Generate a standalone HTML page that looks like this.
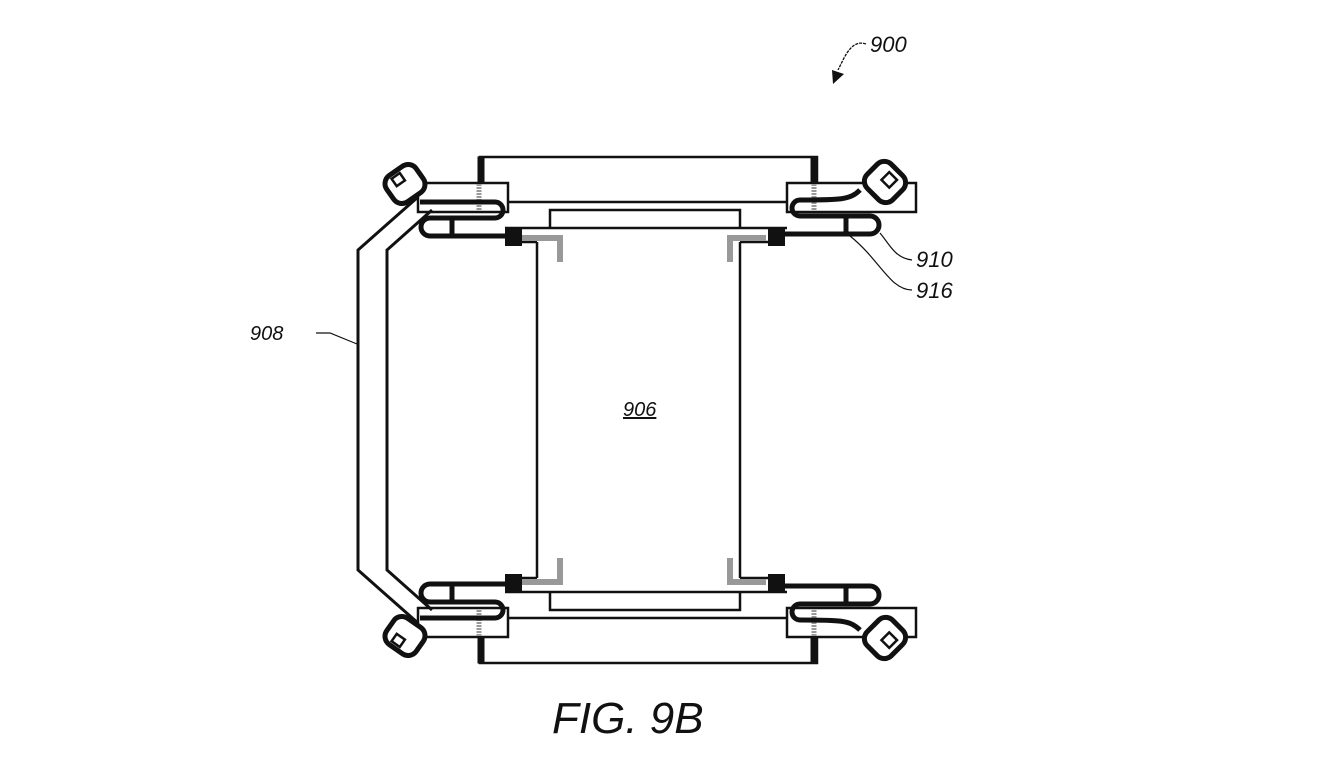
<!DOCTYPE html>
<html><head><meta charset="utf-8"><style>
html,body{margin:0;padding:0;background:#fff}
svg{display:block}
text{font-family:"Liberation Sans",sans-serif;font-style:italic;fill:#111}
</style></head><body>
<svg width="1324" height="782" viewBox="0 0 1324 782" xmlns="http://www.w3.org/2000/svg">
<defs>
<g id="top" fill="none" stroke="#111">
  <!-- top plate -->
  <path d="M480 183 V157 H817 V183" stroke-width="2.5"/>
  <rect x="478" y="157" width="6" height="26" fill="#111"/>
  <rect x="811" y="157" width="6" height="26" fill="#111"/>
  <line x1="508" y1="202" x2="787" y2="202" stroke-width="2.5"/>
  <!-- clamp blocks -->
  <rect x="418" y="183" width="90" height="29" stroke-width="2.5" fill="#fff"/>
  <rect x="787" y="183" width="129" height="29" stroke-width="2.5" fill="#fff"/>
  <line x1="479" y1="184" x2="479" y2="210" stroke="#999" stroke-width="5" stroke-dasharray="2 1"/>
  <line x1="814" y1="184" x2="814" y2="210" stroke="#999" stroke-width="5" stroke-dasharray="2 1"/>
  <!-- inner plate -->
  <path d="M550 227 V210 H740 V227" stroke-width="2.5"/>
  <line x1="505" y1="228" x2="787" y2="228" stroke-width="2.5"/>
  <!-- box connections -->
  <path d="M505 242 H537" stroke-width="2.5"/>
  <path d="M740 242 H770" stroke-width="2.5"/>
  <rect x="505" y="229" width="17" height="17" fill="#111" stroke="none"/>
  <rect x="768" y="229" width="17" height="17" fill="#111" stroke="none"/>
  <path d="M522 238 H560 V262" stroke="#999" stroke-width="6"/>
  <path d="M766 238 H730 V262" stroke="#999" stroke-width="6"/>
  <!-- left spring -->
  <path d="M420 202 H495 a8 8 0 0 1 0 16 H430 a9 9 0 0 0 0 18 H508" stroke-width="5"/>
  <line x1="452" y1="218" x2="452" y2="236" stroke-width="5"/>
  <!-- right spring -->
  <path d="M860 190 C850 200 840 200 800 200 a8 8 0 0 0 0 16 H870 a9 9 0 0 1 0 18 H785" stroke-width="5"/>
  <line x1="846" y1="216" x2="846" y2="234" stroke-width="5"/>
  <!-- knobs -->
  <g transform="translate(405 184) rotate(-35)">
    <rect x="-18" y="-16" width="36" height="32" rx="10" stroke-width="5" fill="#fff"/>
    <rect x="-8" y="-12" width="10" height="9" stroke-width="2.5"/>
  </g>
  <g transform="translate(885 182) rotate(45)">
    <rect x="-18" y="-17" width="36" height="34" rx="10" stroke-width="5" fill="#fff"/>
    <rect x="-4" y="-10" width="11" height="11" stroke-width="2.5"/>
  </g>
  <!-- frame 908 upper -->
  <path d="M418 197 L358 250 V410" stroke-width="3"/>
  <path d="M432 210 L387 250 V410" stroke-width="3"/>
</g>
</defs>
<use href="#top"/>
<use href="#top" transform="translate(0 820) scale(1 -1)"/>
<!-- box 906 -->
<path d="M537 242 V578 M740 242 V578" fill="none" stroke="#111" stroke-width="2.5"/>
<text x="623" y="416" font-size="20" text-decoration="underline">906</text>
<!-- labels -->
<text x="870" y="52" font-size="22">900</text>
<path d="M866 44 C855 40 848 50 843 60 L838 70" fill="none" stroke="#111" stroke-width="1.3" stroke-dasharray="3 1"/>
<path d="M833 84 L832 70 L844 74 Z" fill="#111"/>
<text x="250" y="340" font-size="20">908</text>
<path d="M316 333 H330 L357 344" fill="none" stroke="#111" stroke-width="1.2"/>
<text x="916" y="267" font-size="22">910</text>
<path d="M880 233 C890 245 895 258 912 260" fill="none" stroke="#111" stroke-width="1.2"/>
<text x="916" y="298" font-size="22">916</text>
<path d="M850 236 C880 260 890 290 912 290" fill="none" stroke="#111" stroke-width="1.2"/>
<text x="552" y="733" font-size="44">FIG. 9B</text>
</svg>
</body></html>
